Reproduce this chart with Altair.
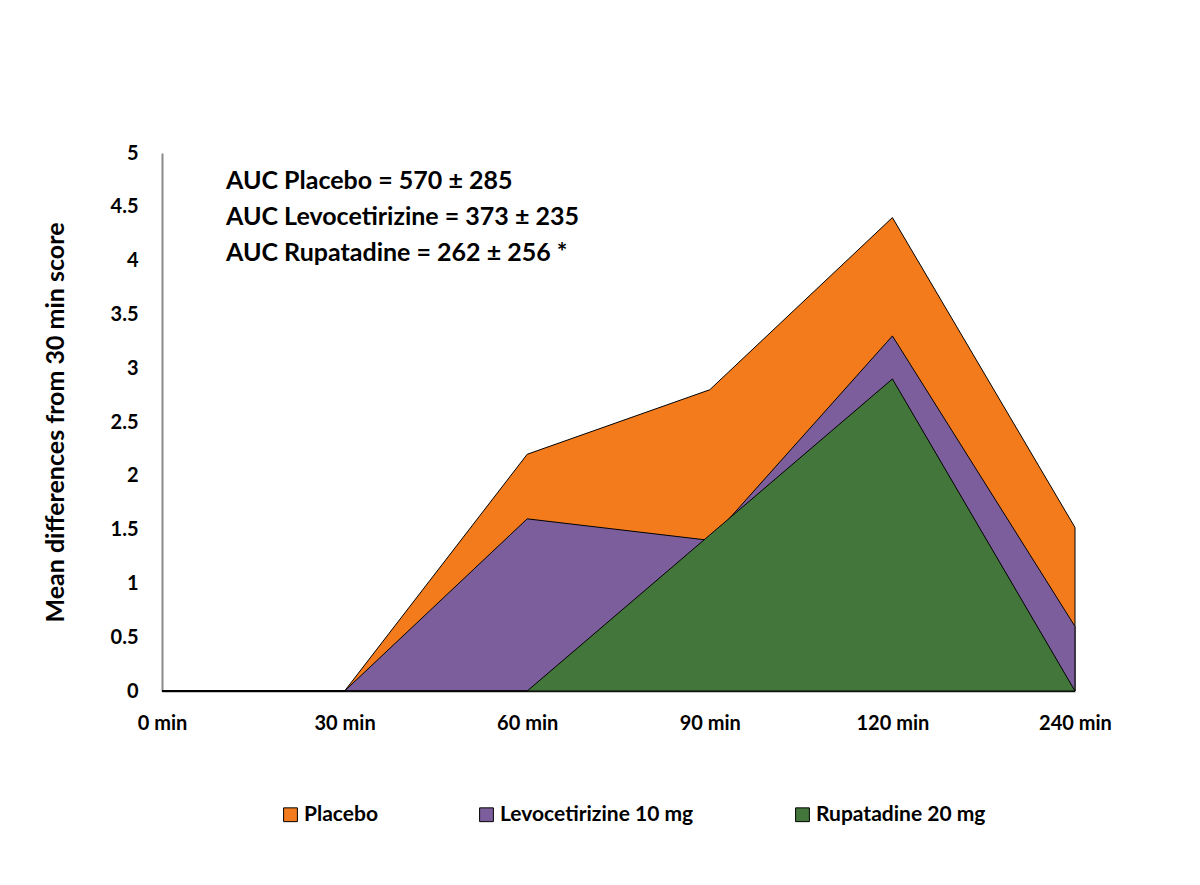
import altair as alt
import pandas as pd

times = ["0 min", "30 min", "60 min", "90 min", "120 min", "240 min"]
placebo = [0, 0, 2.2, 2.8, 4.4, 1.52]
levocetirizine = [0, 0, 1.6, 1.4, 3.3, 0.6]
rupatadine = [0, 0, 0, 1.45, 2.9, 0]
series_names = ["Placebo", "Levocetirizine 10 mg", "Rupatadine 20 mg"]
series_colors = ["#F47B1C", "#7D5E9C", "#43763A"]
y_ticks = [0, 0.5, 1, 1.5, 2, 2.5, 3, 3.5, 4, 4.5, 5]
auc_lines = ["AUC Placebo = 570 \u00b1 285",
             "AUC Levocetirizine = 373 \u00b1 235",
             "AUC Rupatadine = 262 \u00b1 256 *"]

rows = []
for name, vals in zip(series_names, [placebo, levocetirizine, rupatadine]):
    for t, v in zip(times, vals):
        rows.append({"time": t, "value": v, "series": name})
df = pd.DataFrame(rows)

FONT = "Lato"

x_enc = alt.X("time:N", sort=times,
              scale=alt.Scale(type="point", padding=0),
              axis=alt.Axis(title=None, labelAngle=0, labelFont=FONT,
                            labelFontSize=20, labelFontWeight="bold",
                            labelColor="black", labelPadding=22, ticks=False,
                            domainColor="#8a8a8a", domainWidth=2, grid=False))
y_enc = alt.Y("value:Q", scale=alt.Scale(domain=[0, 5], nice=False),
              axis=alt.Axis(title="Mean differences from 30 min score",
                            values=y_ticks, format=".1~f",
                            labelFont=FONT, labelFontSize=20,
                            labelFontWeight="bold", labelColor="black",
                            labelPadding=24, ticks=False, grid=False,
                            domainColor="#8a8a8a", domainWidth=2,
                            titleFont=FONT, titleFontSize=25,
                            titleFontWeight="bold", titleColor="black",
                            titlePadding=42))
color_enc = alt.Color("series:N",
                      scale=alt.Scale(domain=series_names, range=series_colors),
                      legend=alt.Legend(title=None, orient="none",
                                        direction="horizontal",
                                        legendX=118, legendY=651,
                                        symbolType="square", symbolSize=190,
                                        symbolStrokeColor="black",
                                        symbolStrokeWidth=1,
                                        symbolOpacity=1,
                                        labelFont=FONT, labelFontSize=21,
                                        labelFontWeight="bold",
                                        labelColor="black",
                                        columnPadding=98, labelOffset=3,
                                        labelLimit=400))

layers = []
for name in series_names:
    layers.append(
        alt.Chart(df).transform_filter(alt.datum.series == name)
        .mark_area(stroke="black", strokeWidth=1, opacity=1, fillOpacity=1)
        .encode(x=x_enc, y=y_enc, color=color_enc)
    )

text_df = pd.DataFrame({"txt": ["\n".join(auc_lines)]})
annot = alt.Chart(text_df).mark_text(
    align="left", baseline="middle", font=FONT, fontSize=25,
    fontWeight="bold", color="black", lineBreak="\n", lineHeight=36
).encode(text="txt:N", x=alt.value(64), y=alt.value(28))

chart = alt.layer(*layers, annot).properties(
    width=913, height=538,
    background="white",
    autosize=alt.AutoSizeParams(type="none"),
    padding={"left": 154, "top": 145, "right": 100, "bottom": 170},
).configure_view(strokeWidth=0)

chart.save("out.html", embed_options={"renderer": "svg", "actions": False})
